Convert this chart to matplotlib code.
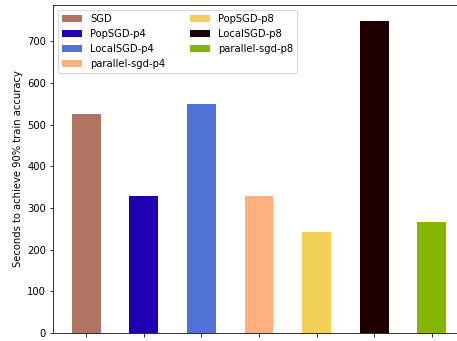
import matplotlib
matplotlib.use("Agg")
import matplotlib.pyplot as plt

LABELS = ["SGD", "PopSGD-p4", "LocalSGD-p4", "parallel-sgd-p4",
          "PopSGD-p8", "LocalSGD-p8", "parallel-sgd-p8"]
SECONDS = [527, 329, 550, 329, 242, 750, 266]
COLORS = ["#b07562", "#2000b0", "#5072d9", "#ffb07c",
          "#f4d058", "#1f0000", "#85b600"]

DPI = 72
fig = plt.figure(figsize=(457 / DPI, 341 / DPI), dpi=DPI)
# axes runs past the right edge, as in the reference
ax = fig.add_axes([53 / 457, 8 / 341, 412 / 457, 328 / 341])

for i, (label, val, col) in enumerate(zip(LABELS, SECONDS, COLORS)):
    ax.bar(i, val, width=0.5, color=col, label=label)

ax.set_xticks(range(len(LABELS)), labels=[""] * len(LABELS))
ax.set_ylabel("Seconds to achieve 90% train accuracy")
ax.legend(loc="upper left", ncol=2, columnspacing=2.5)

fig.savefig("out.png", dpi=DPI)
